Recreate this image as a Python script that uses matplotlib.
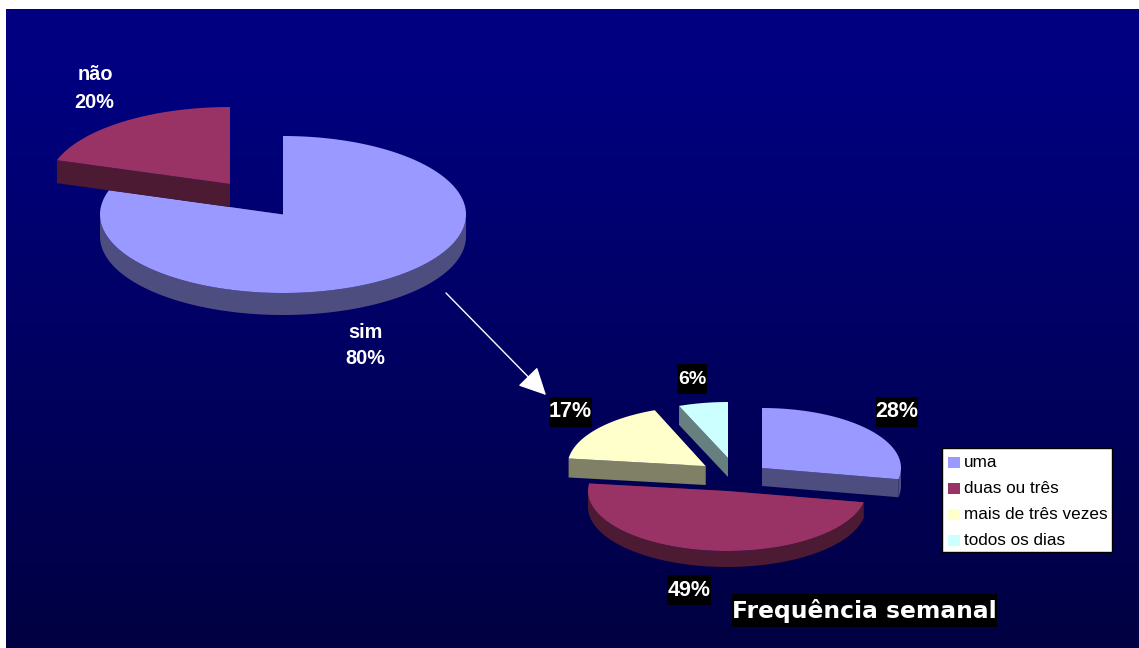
import numpy as np
import matplotlib
matplotlib.use("Agg")
import matplotlib.pyplot as plt
from matplotlib.patches import Polygon, Rectangle, FancyArrowPatch

plt.rcParams['font.family'] = ['Liberation Sans', 'DejaVu Sans']

# Participation pie
answer_labels = ["sim", "não"]
answer_values = [80, 20]

# Weekly frequency pie
freq_labels = ["uma", "duas ou três", "mais de três vezes", "todos os dias"]
freq_values = [28, 49, 17, 6]
freq_title = "Frequência semanal"

TOP_BLUE = "#9999FF"
SIDE_BLUE = "#4D4D80"
TOP_WINE = "#993366"
SIDE_WINE = "#4D1A33"
TOP_CREAM = "#FFFFCC"
SIDE_CREAM = "#808066"
TOP_CYAN = "#CCFFFF"
SIDE_CYAN = "#668080"

W, H = 1139, 648
fig = plt.figure(figsize=(W / 100, H / 100), dpi=100, facecolor="white")
ax = fig.add_axes([0, 0, 1, 1])
ax.axis("off")

# Navy backdrop fading towards the bottom
grad = np.linspace(0, 1, 256)[:, None]
rgb = np.zeros((256, 1, 3))
rgb[..., 2] = (128 - 62 * np.clip((grad - 0.1) / 0.9, 0, 1)) / 255
ax.imshow(rgb, extent=[6, W, 648, 9], aspect="auto", zorder=0)
ax.set_xlim(0, W)
ax.set_ylim(H, 0)


def rim(cx, cy, rx, ry, a0, a1):
    """Points along the top ellipse between two clockwise angles from 12 o'clock."""
    t = np.radians(np.linspace(a0, a1, max(int(abs(a1 - a0)) * 2, 2)))
    return np.column_stack([cx + rx * np.sin(t), cy - ry * np.cos(t)])


def wedge3d(cx, cy, rx, ry, depth, a0, a1, top, side, z):
    """Extruded pie slice: side walls first, then the top face."""
    arc = rim(cx, cy, rx, ry, a0, a1)
    apex = np.array([[cx, cy]])
    down = np.array([0, depth])
    # outer wall, only the part facing the viewer
    lo, hi = max(a0, 90), min(a1, 270)
    if hi > lo:
        wall = rim(cx, cy, rx, ry, lo, hi)
        ax.add_patch(Polygon(np.vstack([wall, (wall + down)[::-1]]),
                             closed=True, fc=side, ec="none", zorder=z))
    # cut faces
    for end in (arc[0], arc[-1]):
        face = np.array([apex[0], end, end + down, apex[0] + down])
        ax.add_patch(Polygon(face, closed=True, fc=side, ec="none", zorder=z))
    ax.add_patch(Polygon(np.vstack([apex, arc]), closed=True, fc=top, ec="none", zorder=z + 0.5))


def spans(values):
    edges = np.concatenate([[0], np.cumsum(values)]) / np.sum(values) * 360
    return list(zip(edges[:-1], edges[1:]))


# Left pie: each slice has its own pulled-out centre
a_span = spans(answer_values)
wedge3d(283, 214.5, 183, 78.5, 22, *a_span[0], TOP_BLUE, SIDE_BLUE, 2)
wedge3d(230, 184, 182, 77, 23, *a_span[1], TOP_WINE, SIDE_WINE, 3)

# Right pie
f_span = spans(freq_values)
f_geom = [(762, 468, 139, 60, 18), (727, 491, 139, 60, 16),
          (705.5, 466, 138, 60, 19), (728, 458, 133, 56, 19)]
f_top = [TOP_BLUE, TOP_WINE, TOP_CREAM, TOP_CYAN]
f_side = [SIDE_BLUE, SIDE_WINE, SIDE_CREAM, SIDE_CYAN]
for i, (g, sp) in enumerate(zip(f_geom, f_span)):
    wedge3d(*g, *sp, f_top[i], f_side[i], 4 + i)

# Connector between the two pies
ax.add_patch(FancyArrowPatch((446, 293), (546, 395), arrowstyle="-|>,head_length=1.7,head_width=0.85",
                             mutation_scale=10, color="white", lw=1, shrinkA=0, shrinkB=0, zorder=10))

# Left pie labels
for (x, y, txt) in [(95, 74, answer_labels[1]), (94, 102, f"{answer_values[1]}%"),
                    (365, 332, answer_labels[0]), (365, 359, f"{answer_values[0]}%")]:
    ax.text(x, y, txt, color="white", fontsize=14.3, fontweight="bold", ha="center", va="center", zorder=12)

# Right pie percentages on black plates
plate_centers = [(897, 411.5), (689, 590), (570.5, 411.5), (692, 379)]
plate_widths = [42, 44, 43, 30]
for (x, y), w, v in zip(plate_centers, plate_widths, freq_values):
    ax.add_patch(Rectangle((x - w / 2, y - 15), w, 30, fc="black", ec="none", zorder=11))
    ax.text(x, y, f"{v}%", color="white", fontsize=15.5 if w > 30 else 14, fontweight="bold",
            ha="center", va="center", zorder=12)

ax.add_patch(Rectangle((732, 594), 265, 33, fc="black", ec="none", zorder=11))
ax.text(864.5, 611, freq_title, color="white", fontsize=16.8, fontweight="bold",
        family=["DejaVu Sans"], ha="center", va="center", zorder=12)

# Legend
ax.add_patch(Rectangle((942, 448), 170, 104, fc="white", ec="black", lw=1, zorder=12))
for i, (lab, col) in enumerate(zip(freq_labels, f_top)):
    yc = 462.5 + i * 26
    ax.add_patch(Rectangle((948, yc - 5.5), 11.5, 11, fc=col, ec="none", zorder=13))
    ax.text(964, yc, lab, color="black", fontsize=12.3, ha="left", va="center", zorder=13)

fig.savefig("out.png", dpi=100, facecolor="white")
